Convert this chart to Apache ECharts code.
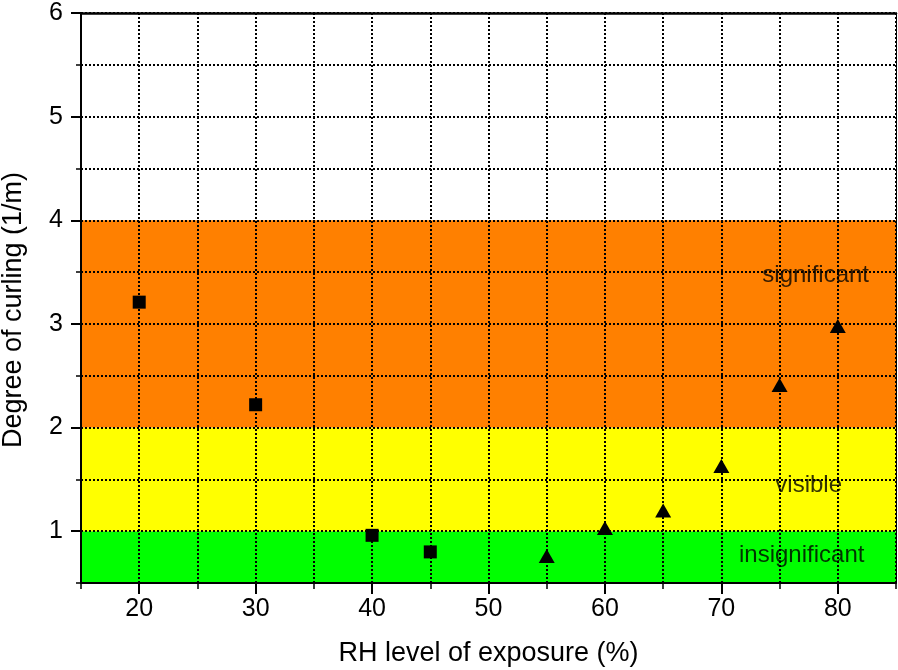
<!DOCTYPE html>
<html>
<head>
<meta charset="utf-8">
<script src="https://cdn.jsdelivr.net/npm/echarts@6/dist/echarts.min.js"></script>
<style>html,body{margin:0;padding:0;background:#fff;}#c{width:898px;height:670px;}</style>
</head>
<body>
<div id="c"></div>
<script>
// ---- data ----
const xMajorTicks = [20, 30, 40, 50, 60, 70, 80];
const yMajorTicks = [1, 2, 3, 4, 5, 6];
const squareX = [20, 30, 40, 45];
const squareY = [3.21, 2.22, 0.96, 0.80];
const triangleX = [55, 60, 65, 70, 75, 80];
const triangleY = [0.76, 1.03, 1.20, 1.63, 2.41, 2.98];
const bandNames = ['insignificant', 'visible', 'significant'];
const bandLow = [0.5, 1, 2];
const bandHigh = [1, 2, 4];
const bandLabelX = [76.9, 77.5, 78.1];
const bandLabelY = [0.77, 1.44, 3.47];
const xTitle = 'RH level of exposure (%)';
const yTitle = 'Degree of curling (1/m)';

const bandColors = ['#00ff00', '#ffff00', '#ff8000'];
const FONT = 'Liberation Sans, Arial, sans-serif';

const chart = echarts.init(document.getElementById('c'), null, {renderer: 'canvas'});
const dotted = {color: '#000', width: 2, type: [2, 2]};

const option = {
  animation: false,
  backgroundColor: '#fff',
  grid: {left: 81, right: 2, top: 13, bottom: 87, containLabel: false, outerBoundsMode: 'none'},
  xAxis: [
    {
      type: 'value', min: 15, max: 85, interval: 5, position: 'bottom', z: 5,
      name: xTitle, nameLocation: 'middle', nameGap: 57,
      nameTextStyle: {fontFamily: FONT, fontSize: 27, color: '#000'},
      axisLine: {show: true, onZero: false, lineStyle: {color: '#000', width: 2}},
      axisTick: {show: true, inside: false, length: 6, lineStyle: {color: '#000', width: 1.5}},
      axisLabel: {
        margin: 14, fontFamily: FONT, fontSize: 25, color: '#000',
        formatter: v => (xMajorTicks.indexOf(v) >= 0 ? String(v) : '')
      },
      splitLine: {show: true, lineStyle: dotted}
    },
    {
      type: 'value', min: 15, max: 85, position: 'bottom', z: 5,
      axisLine: {show: false, onZero: false},
      axisTick: {show: true, inside: false, length: 11, customValues: xMajorTicks, lineStyle: {color: '#000', width: 2}},
      axisLabel: {show: false},
      splitLine: {show: false}
    },
    {
      type: 'value', min: 15, max: 85, position: 'top', z: 5,
      axisLine: {show: true, onZero: false, lineStyle: {color: '#000', width: 2.5}},
      axisTick: {show: false}, axisLabel: {show: false}, splitLine: {show: false}
    }
  ],
  yAxis: [
    {
      type: 'value', min: 0.5, max: 6, interval: 0.5, position: 'left', z: 5,
      name: yTitle, nameLocation: 'middle', nameGap: 54, nameRotate: 90,
      nameTextStyle: {fontFamily: FONT, fontSize: 27, color: '#000', padding: [0, 24, 0, 0]},
      axisLine: {show: true, onZero: false, lineStyle: {color: '#000', width: 2}},
      axisTick: {show: true, inside: false, length: 5, lineStyle: {color: '#000', width: 1.5}},
      axisLabel: {
        margin: 18, fontFamily: FONT, fontSize: 25, color: '#000',
        formatter: v => (yMajorTicks.indexOf(v) >= 0 ? String(v) : '')
      },
      splitLine: {show: true, lineStyle: dotted}
    },
    {
      type: 'value', min: 0.5, max: 6, position: 'left', z: 5,
      axisLine: {show: false, onZero: false},
      axisTick: {show: true, inside: false, length: 10, customValues: yMajorTicks, lineStyle: {color: '#000', width: 2}},
      axisLabel: {show: false},
      splitLine: {show: false}
    },
    {
      type: 'value', min: 0.5, max: 6, position: 'right', z: 5,
      axisLine: {show: true, onZero: false, lineStyle: {color: '#000', width: 1}},
      axisTick: {show: false}, axisLabel: {show: false}, splitLine: {show: false}
    }
  ],
  series: [
    {
      name: 'bands', type: 'scatter', z: 0, xAxisIndex: 0, yAxisIndex: 0,
      data: [], symbolSize: 0, silent: true,
      markArea: {
        silent: true, z: 0,
        data: bandLow.map((lo, i) => [
          {yAxis: lo, itemStyle: {color: bandColors[i], opacity: 1}},
          {yAxis: bandHigh[i]}
        ])
      }
    },
    {
      name: 'squares', type: 'scatter', z: 10, xAxisIndex: 0, yAxisIndex: 0,
      symbol: 'rect', symbolSize: 13,
      itemStyle: {color: '#000', opacity: 1},
      data: squareX.map((x, i) => [x, squareY[i]])
    },
    {
      name: 'triangles', type: 'scatter', z: 10, xAxisIndex: 0, yAxisIndex: 0,
      symbol: 'triangle', symbolSize: [16, 14],
      itemStyle: {color: '#000', opacity: 1},
      data: triangleX.map((x, i) => [x, triangleY[i]])
    },
    {
      name: 'bandLabels', type: 'scatter', z: 11, xAxisIndex: 0, yAxisIndex: 0,
      symbolSize: 0, silent: true,
      label: {
        show: true, position: 'inside', formatter: p => p.name,
        fontFamily: FONT, fontSize: 24, color: '#000'
      },
      data: bandNames.map((n, i) => ({name: n, value: [bandLabelX[i], bandLabelY[i]]}))
    }
  ]
};
chart.setOption(option);
</script>
</body>
</html>
